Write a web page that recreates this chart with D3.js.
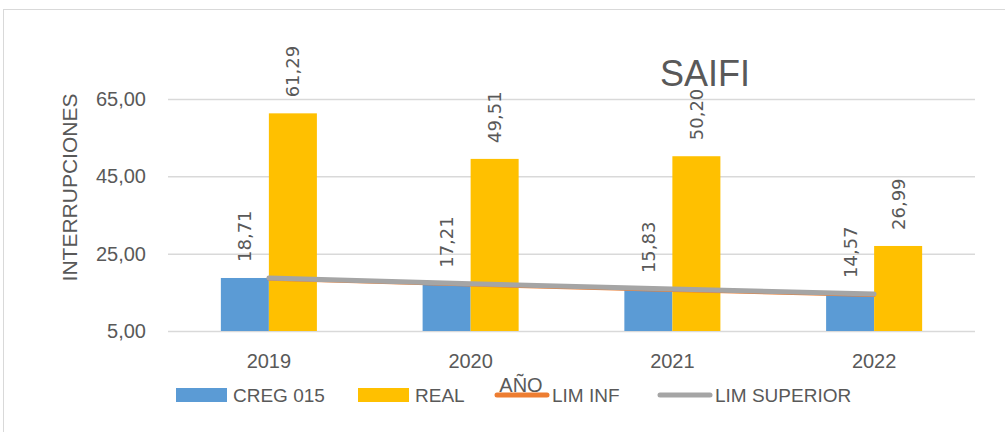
<!DOCTYPE html>
<html>
<head>
<meta charset="utf-8">
<script src="https://cdn.jsdelivr.net/npm/d3@7"></script>
<style>
  body { margin: 0; background: #fff; }
  text { font-family: "Liberation Sans", Arial, sans-serif; fill: #595959; }
</style>
</head>
<body>
<svg></svg>
<script>
// DATA
let years = ["2019", "2020", "2021", "2022"]
let creg015 = [18.71, 17.21, 15.83, 14.57]
let real = [61.29, 49.51, 50.20, 26.99]
let limInf = [18.3, 16.8, 15.4, 14.1]
let limSuperior = [18.71, 17.21, 15.83, 14.57]
let yTicks = [5, 25, 45, 65]

let svgWidth = 1005
let svgHeight = 432

let svg = d3.select("svg")
  .attr("width", svgWidth)
  .attr("height", svgHeight)

// chart border
svg.append("rect")
  .attr("x", 3.5).attr("y", 9.5)
  .attr("width", 1010).attr("height", 440)
  .attr("fill", "none")
  .attr("stroke", "#d9d9d9")

let plotLeft = 168, plotRight = 975, plotTop = 99, plotBottom = 331

// SCALES
let yScale = d3.scaleLinear()
  .domain([5, 65])
  .range([plotBottom, plotTop])

let xScale = d3.scaleBand()
  .domain(years)
  .range([plotLeft, plotRight])
  .padding(0)

let bw = xScale.bandwidth()
let barW = bw * 0.238
let fmt = d => d.toFixed(2).replace(".", ",")

// GRIDLINES + Y AXIS
let yAxis = d3.axisLeft(yScale)
  .tickValues(yTicks)
  .tickSize(-(plotRight - plotLeft))
  .tickPadding(22)
  .tickFormat(fmt)

let yG = svg.append("g")
  .attr("transform", `translate(${plotLeft}, 0)`)
  .call(yAxis)
yG.select(".domain").remove()
yG.selectAll("line").attr("stroke", "#d9d9d9").attr("stroke-width", 1.5)
yG.selectAll("text")
  .attr("fill", "#595959")
  .style("font-size", "20px")
  .style("font-family", "Liberation Sans, Arial, sans-serif")

// X AXIS
let xAxis = d3.axisBottom(xScale).tickSize(0).tickPadding(23)
let xG = svg.append("g")
  .attr("transform", `translate(0, ${plotBottom})`)
  .call(xAxis)
xG.select(".domain").remove()
xG.selectAll("text")
  .attr("fill", "#595959")
  .style("font-size", "20px")
  .style("font-family", "Liberation Sans, Arial, sans-serif")

// BARS
let series = [
  { name: "CREG 015", values: creg015, color: "#5B9BD5", off: -barW },
  { name: "REAL", values: real, color: "#FFC000", off: 0 }
]

series.forEach(s => {
  svg.selectAll(null)
    .data(s.values)
    .enter()
    .append("rect")
    .attr("x", (d, i) => xScale(years[i]) + bw / 2 + s.off)
    .attr("y", d => yScale(d))
    .attr("width", barW)
    .attr("height", d => plotBottom - yScale(d))
    .attr("fill", s.color)
})

// LINES
let lineGen = d3.line()
  .x((d, i) => xScale(years[i]) + bw / 2)
  .y(d => yScale(d))

svg.append("path")
  .datum(limInf)
  .attr("d", lineGen)
  .attr("fill", "none")
  .attr("stroke", "#ED7D31")
  .attr("stroke-width", 2.5)
  .attr("stroke-linecap", "round")

svg.append("path")
  .datum(limSuperior)
  .attr("d", lineGen)
  .attr("fill", "none")
  .attr("stroke", "#A5A5A5")
  .attr("stroke-width", 5)
  .attr("stroke-linecap", "round")

// DATA LABELS
series.forEach(s => {
  svg.selectAll(null)
    .data(s.values)
    .enter()
    .append("text")
    .attr("transform", (d, i) => {
      let cx = xScale(years[i]) + bw / 2 + s.off + barW / 2
      return `translate(${cx}, ${yScale(d) - 16}) rotate(-90)`
    })
    .attr("dy", "0.36em")
    .style("font-family", "DejaVu Sans, sans-serif")
    .style("font-size", "18px")
    .attr("fill", "#404040")
    .text(d => fmt(d))
})

// TITLE
svg.append("text")
  .attr("x", 705).attr("y", 86)
  .attr("text-anchor", "middle")
  .style("font-size", "36px")
  .text("SAIFI")

// AXIS TITLES
svg.append("text")
  .attr("transform", "translate(77, 187.5) rotate(-90)")
  .attr("text-anchor", "middle")
  .style("font-size", "21px")
  .text("INTERRUPCIONES")

svg.append("text")
  .attr("x", 521).attr("y", 392)
  .attr("text-anchor", "middle")
  .style("font-size", "20px")
  .text("AÑO")

// LEGEND
let legend = [
  { name: "CREG 015", color: "#5B9BD5", type: "rect", x: 176 },
  { name: "REAL", color: "#FFC000", type: "rect", x: 358 },
  { name: "LIM INF", color: "#ED7D31", type: "line", x: 495 },
  { name: "LIM SUPERIOR", color: "#A5A5A5", type: "line", x: 658 }
]
let legY = 395

legend.forEach(l => {
  if (l.type === "rect") {
    svg.append("rect")
      .attr("x", l.x).attr("y", legY - 7)
      .attr("width", 51).attr("height", 14)
      .attr("fill", l.color)
  } else {
    svg.append("line")
      .attr("x1", l.x + 2).attr("x2", l.x + 52)
      .attr("y1", legY).attr("y2", legY)
      .attr("stroke", l.color)
      .attr("stroke-width", 5)
      .attr("stroke-linecap", "round")
  }
  svg.append("text")
    .attr("x", l.x + 57).attr("y", legY + 7)
    .style("font-size", "19px")
    .text(l.name)
})
</script>
</body>
</html>
